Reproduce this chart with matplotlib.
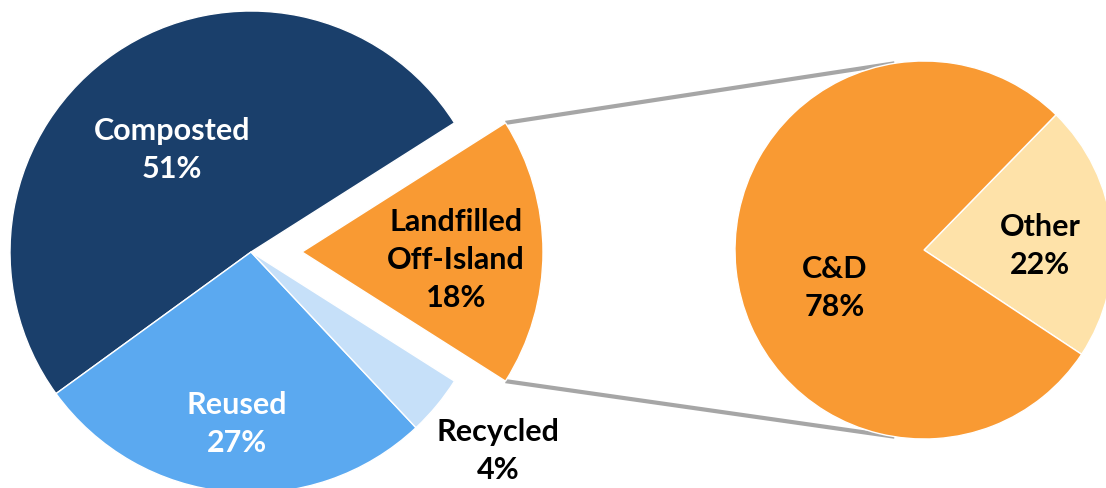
import matplotlib
matplotlib.use("Agg")
import matplotlib.pyplot as plt
import numpy as np

# main pie: waste by destination
main_labels = ["Landfilled\nOff-Island", "Composted", "Reused", "Recycled"]
main_values = [18, 51, 27, 4]
main_colors = ["#F99A33", "#1A3F6B", "#5BA9F0", "#C6E0F9"]

# breakdown of the landfilled share
sub_labels = ["Other", "C&D"]
sub_values = [22, 78]
sub_colors = ["#FEE2A9", "#F99A33"]

plt.rcParams['font.family'] = ['Lato', 'DejaVu Sans']

W, H = 1106, 489
fig = plt.figure(figsize=(W / 100, H / 100), dpi=100)
ax = fig.add_axes([0, 0, 1, 1])

main_center = (251, 236)
main_r = 241
sub_center = (924, 238)
sub_r = 189

start = -main_values[0] * 3.6 / 2
# explode is in data units here (pixels)
wedges, _ = ax.pie(main_values, colors=main_colors, startangle=start,
                   center=main_center, radius=main_r,
                   explode=[51, 0, 0, 0],
                   wedgeprops=dict(edgecolor="white", linewidth=1))

sub_wedges, _ = ax.pie(sub_values, colors=sub_colors, startangle=-33.5,
                       center=sub_center, radius=sub_r,
                       wedgeprops=dict(edgecolor="white", linewidth=1))

# connector lines from the exploded wedge to the breakdown pie
lw = wedges[0]
cx, cy = lw.center
for ang, sang in [(lw.theta2, 99), (lw.theta1, -99)]:
    x0 = cx + lw.r * np.cos(np.radians(ang))
    y0 = cy + lw.r * np.sin(np.radians(ang))
    x1 = sub_center[0] + sub_r * np.cos(np.radians(sang))
    y1 = sub_center[1] + sub_r * np.sin(np.radians(sang))
    ax.plot([x0, x1], [y0, y1], color="#A6A6A6", lw=3, solid_capstyle="butt", zorder=0)

# labels (positions in pixel coords, y measured from the top)
txt = dict(fontsize=22, fontweight="bold", ha="center", va="center", linespacing=1.45)
ax.text(172, H - 150, f"Composted\n{main_values[1]}%", color="white", **txt)
ax.text(237, H - 424, f"Reused\n{main_values[2]}%", color="white", **txt)
ax.text(498, H - 451, f"Recycled\n{main_values[3]}%", color="black", **txt)
ax.text(456, H - 260, f"{main_labels[0]}\n{main_values[0]}%", color="black", **txt)
ax.text(835, H - 288, f"{sub_labels[1]}\n{sub_values[1]}%", color="black", **txt)
ax.text(1040, H - 246, f"{sub_labels[0]}\n{sub_values[0]}%", color="black", **txt)

ax.set_xlim(0, W)
ax.set_ylim(0, H)
ax.set_aspect("equal")
ax.axis("off")

fig.savefig("out.png", dpi=100)
